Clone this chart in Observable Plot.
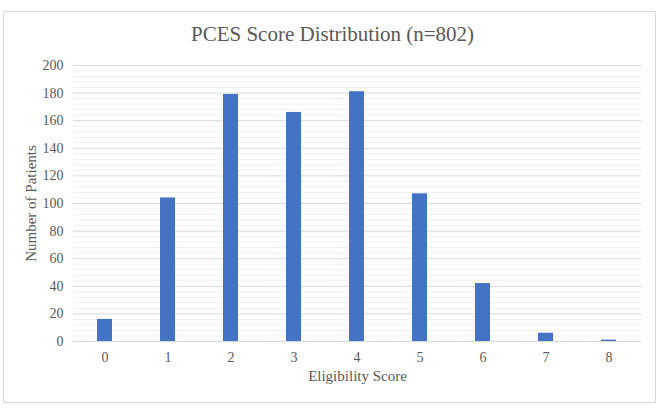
<!DOCTYPE html>
<html>
<head>
<meta charset="utf-8">
<script src="https://cdn.jsdelivr.net/npm/d3@7"></script>
<script src="https://cdn.jsdelivr.net/npm/@observablehq/plot@0.6"></script>
<style>
  html, body { margin: 0; padding: 0; background: #fff; }
  #wrap { position: relative; width: 665px; height: 411px; overflow: hidden; font-family: "Liberation Serif", "Times New Roman", serif; }
  #border { position: absolute; left: 3px; top: 11px; width: 653px; height: 392px; border: 1px solid #d9d9d9; box-sizing: border-box; }
  #title { position: absolute; left: 0; width: 665px; top: 22px; text-align: center; font-size: 21px; line-height: 24px; color: #595959; }
  #chart { position: absolute; left: 0; top: 0; }
  #chart svg, #chart svg text { font-family: "Liberation Serif", "Times New Roman", serif !important; }
</style>
</head>
<body>
<div id="wrap">
  <div id="border"></div>
  <div id="chart"></div>
  <div id="title">PCES Score Distribution (n=802)</div>
</div>
<script>
const scores = ["0", "1", "2", "3", "4", "5", "6", "7", "8"];
const patients = [16, 104, 179, 166, 181, 107, 42, 6, 1];
const yTicks = [0, 20, 40, 60, 80, 100, 120, 140, 160, 180, 200];
const minorTicks = d3.range(0, 201, 4).filter(v => v % 20 !== 0);

const data = scores.map((s, i) => ({score: s, count: patients[i]}));
const serif = "Liberation Serif";

const chart = Plot.plot({
  width: 665,
  height: 411,
  marginLeft: 73,
  marginRight: 24,
  marginTop: 65,
  marginBottom: 70,
  style: {fontFamily: serif, fontSize: "14px", color: "#595959", background: "transparent"},
  x: {domain: scores, paddingInner: 0.76, paddingOuter: 0.38, label: null},
  y: {domain: [0, 200], label: null},
  marks: [
    Plot.ruleY(minorTicks, {stroke: "#f0f0f0", strokeWidth: 1}),
    Plot.ruleY(yTicks, {stroke: "#d9d9d9", strokeWidth: 1}),
    Plot.barY(data, {x: "score", y: "count", fill: "#4472C4"}),
    Plot.axisY(yTicks, {tickSize: 0, tickPadding: 10, fill: "#595959", fontSize: 14, fontFamily: serif, label: null}),
    Plot.axisX({tickSize: 0, tickPadding: 11, fill: "#595959", fontSize: 14, fontFamily: serif, label: null}),
    Plot.text(["Eligibility Score"], {frameAnchor: "bottom", dy: 39, fill: "#595959", fontSize: 15, fontFamily: serif}),
    Plot.text(["Number of Patients"], {frameAnchor: "left", textAnchor: "middle", dx: -42, rotate: -90, fill: "#595959", fontSize: 15, fontFamily: serif})
  ]
});
document.getElementById("chart").appendChild(chart);
</script>
</body>
</html>
